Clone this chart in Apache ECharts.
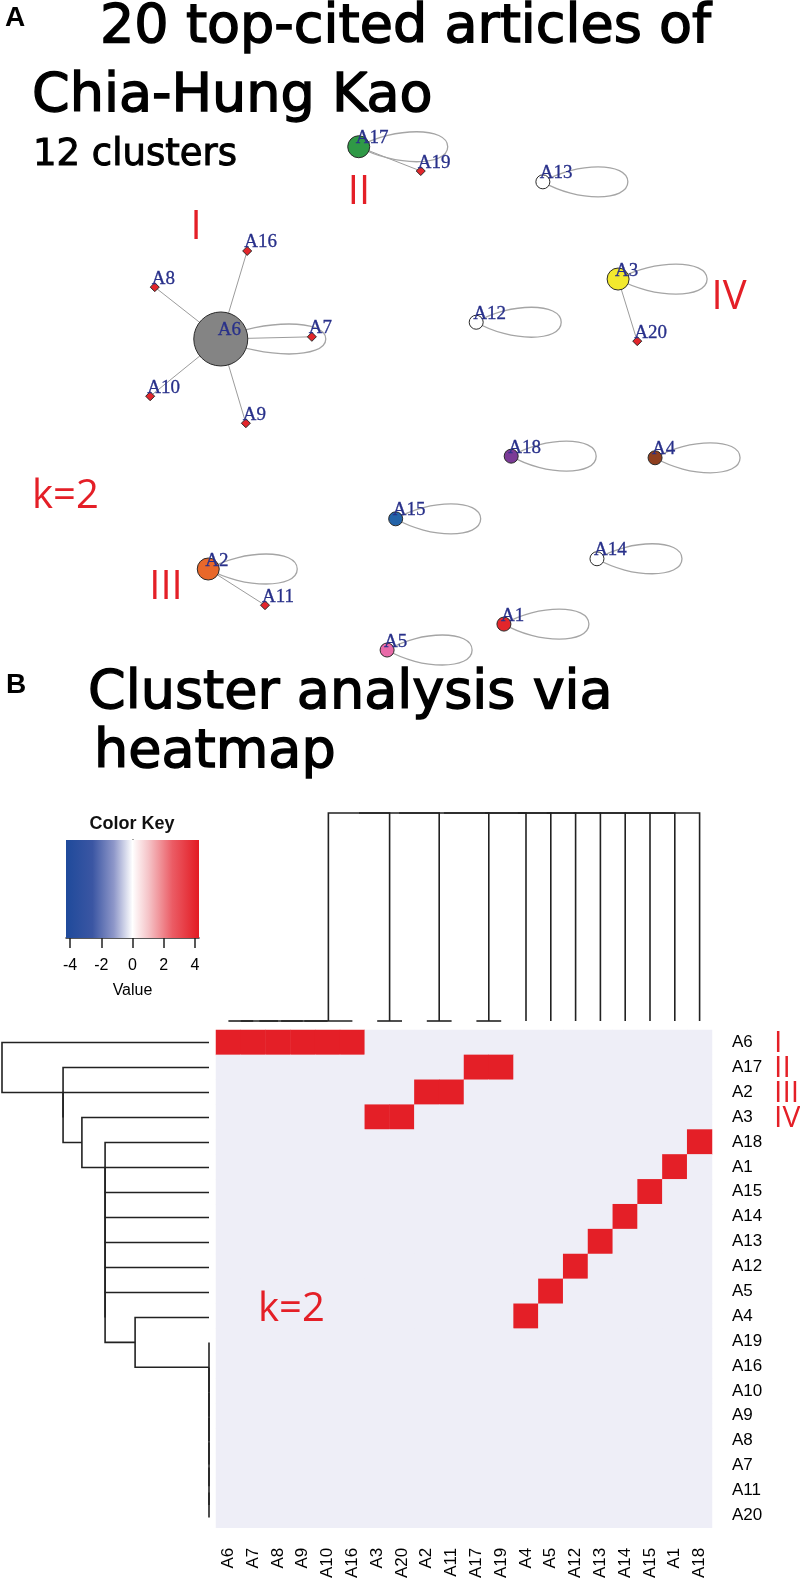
<!DOCTYPE html>
<html>
<head>
<meta charset="utf-8">
<script src="https://cdn.jsdelivr.net/npm/echarts@6/dist/echarts.min.js"></script>
<style>
  html, body { margin: 0; padding: 0; background: #fff; }
  #chart { width: 800px; height: 1581px; }
</style>
</head>
<body>
<div id="chart"></div>
<script>
// ---------- panel A : co-citation network (layout units 0..100) ----------
var nodeNames = ['A1','A2','A3','A4','A5','A6','A7','A8','A9','A10',
                 'A11','A12','A13','A14','A15','A16','A17','A18','A19','A20'];
var nodeX = [61.2, 16.4, 78.5, 84.1, 43.5, 18.3, 32.1, 8.3, 22.1, 7.6,
             25.0, 57.0, 67.1, 75.3, 44.8, 22.3, 39.2, 62.3, 48.6, 81.4];
var nodeY = [8.5, 18.7, 72.4, 39.3, 3.7, 61.3, 61.7, 70.9, 45.7, 50.7,
             12.0, 64.4, 90.4, 20.6, 28.0, 77.6, 96.9, 39.6, 92.4, 60.9];
var edgeFrom = ['A6','A6','A6','A6','A6','A17','A3','A2'];
var edgeTo   = ['A16','A8','A10','A9','A7','A19','A20','A11'];
var loopNodes = ['A6','A17','A3','A2','A13','A12','A18','A4','A15','A14','A1','A5'];

// ---------- panel B : heatmap + dendrograms ----------
var colLabels = ['A6','A7','A8','A9','A10','A16','A3','A20','A2','A11',
                 'A17','A19','A4','A5','A12','A13','A14','A15','A1','A18'];
var rowLabels = ['A6','A17','A2','A3','A18','A1','A15','A14','A13','A12',
                 'A5','A4','A19','A16','A10','A9','A8','A7','A11','A20'];
// cluster (row leader) each column article belongs to
var colCluster = ['A6','A6','A6','A6','A6','A6','A3','A3','A2','A2',
                  'A17','A17','A4','A5','A12','A13','A14','A15','A1','A18'];
// merges: [left, right, height]; merge k is referred to as 'm'+k
var rowMerges = [
  ['A20','A11',0], ['m0','A7',0], ['m1','A8',0], ['m2','A9',0], ['m3','A10',0],
  ['m4','A16',0], ['m5','A19',0], ['A4','m6',3.57], ['m7','A5',5.02], ['m8','A12',5.02],
  ['m9','A13',5.02], ['m10','A14',5.02], ['m11','A15',5.02], ['m12','A1',5.02], ['m13','A18',5.02],
  ['A3','m14',6.14], ['m15','A2',7.05], ['m16','A17',7.05], ['A6','m17',10]
];
var colMerges = [
  ['A6','A7',0], ['m0','A8',0], ['m1','A9',0], ['m2','A10',0], ['m3','A16',0],
  ['A3','A20',0], ['A2','A11',0], ['A17','A19',0],
  ['m4','m5',1], ['m8','m6',1], ['m9','m7',1], ['m10','A4',1], ['m11','A5',1],
  ['m12','A12',1], ['m13','A13',1], ['m14','A14',1], ['m15','A15',1], ['m16','A1',1], ['m17','A18',1]
];
var keyTicks = [-4, -2, 0, 2, 4];
var keyRange = [-4.26, 4.26];

// ---------- styles ----------
var nodeFill = { A1:'#e3262b', A2:'#e8682a', A3:'#f2e92e', A4:'#8e3f1f', A5:'#e86aa8', A6:'#848484',
                 A12:'#ffffff', A13:'#ffffff', A14:'#ffffff', A15:'#2363a8', A17:'#2f9946', A18:'#7b3a96' };
var nodeDiam = { A6:54, A2:22, A3:22, A17:22, A1:14, A4:14, A5:14, A12:14, A13:14, A14:14, A15:14, A18:14 };
var RED = '#e41f27';

function idx(n) { return nodeNames.indexOf(n); }
function diam(n) { return nodeDiam[n] || 9; }

function dendroSegments(order, merges) {
  var pos = {}, hgt = {}, segs = [];
  order.forEach(function (n, i) { pos[n] = i; hgt[n] = 0; });
  merges.forEach(function (m, k) {
    var a = m[0], b = m[1], h = m[2];
    segs.push([[hgt[a], pos[a]], [h, pos[a]], [h, pos[b]], [hgt[b], pos[b]]]);
    pos['m' + k] = (pos[a] + pos[b]) / 2;
    hgt['m' + k] = h;
  });
  return segs;
}
var rowSegs = dendroSegments(rowLabels, rowMerges);
var colSegs = dendroSegments(colLabels, colMerges);

var heatData = [];
rowLabels.forEach(function (r, ri) {
  colLabels.forEach(function (c, ci) {
    heatData.push([ci, ri, colCluster[ci] === r ? 1 : 0]);
  });
});

function seq(n) { var a = []; for (var i = 0; i < n; i++) a.push(i); return a; }

function txt(text, x, y, font, fill, align, heavy) {
  var st = { text: text, font: font, fill: fill || '#000',
             align: align || 'left', textAlign: align || 'left',
             verticalAlign: 'middle', textVerticalAlign: 'middle' };
  if (heavy) { st.stroke = fill || '#000'; st.lineWidth = heavy; }
  return { type: 'text', x: x, y: y, z: 100, silent: true, style: st };
}
var TITLE = '54px "DejaVu Sans"';
var NUM = '40px "Open Sans"';

var chart = echarts.init(document.getElementById('chart'));
chart.setOption({
  animation: false,
  backgroundColor: '#fff',
  textStyle: { fontFamily: 'Liberation Sans' },
  grid: [
    { left: 100, top: 130, width: 660, height: 540 },
    { left: 216, top: 1030, width: 496, height: 500, show: true, backgroundColor: '#eeeef7', borderWidth: 0 },
    { left: 216, top: 813, width: 496, height: 208 },
    { left: 2, top: 1030, width: 207, height: 500 },
    { left: 66, top: 840, width: 133, height: 98 }
  ],
  xAxis: [
    { gridIndex: 0, type: 'value', min: 0, max: 100, show: false },
    { gridIndex: 1, type: 'category', data: colLabels, position: 'bottom',
      axisLine: { show: false }, axisTick: { show: false },
      axisLabel: { rotate: 90, margin: 20, fontSize: 17, color: '#000', interval: 0 } },
    { gridIndex: 2, type: 'value', min: -0.5, max: 19.5, show: false },
    { gridIndex: 3, type: 'value', min: 0, max: 10, inverse: true, show: false },
    { gridIndex: 4, type: 'value', min: keyRange[0], max: keyRange[1],
      splitLine: { show: false },
      axisLine: { show: true, lineStyle: { color: '#222', width: 1.5 } },
      axisTick: { show: true, length: 10, customValues: keyTicks, lineStyle: { color: '#222', width: 1.5 } },
      axisLabel: { customValues: keyTicks, margin: 20, fontSize: 16, color: '#000' },
      name: 'Value', nameLocation: 'middle', nameGap: 45,
      nameTextStyle: { fontSize: 16, color: '#000' } }
  ],
  yAxis: [
    { gridIndex: 0, type: 'value', min: 0, max: 100, show: false },
    { gridIndex: 1, type: 'category', data: rowLabels, inverse: true, position: 'right',
      axisLine: { show: false }, axisTick: { show: false },
      axisLabel: { margin: 20, fontSize: 17, color: '#000', interval: 0 } },
    { gridIndex: 2, type: 'value', min: 0, max: 1, show: false },
    { gridIndex: 3, type: 'value', min: -0.5, max: 19.5, inverse: true, show: false },
    { gridIndex: 4, type: 'value', min: 0, max: 1, position: 'right',
      splitLine: { show: false }, axisTick: { show: false }, axisLabel: { show: false },
      axisLine: { show: true, lineStyle: { color: '#222', width: 1.5 } } }
  ],
  visualMap: [{ show: false, type: 'continuous', seriesIndex: 4, min: 0, max: 1,
                inRange: { color: ['#eeeef7', RED] } }],
  series: [
    { // straight edges
      type: 'custom', xAxisIndex: 0, yAxisIndex: 0, z: 1, silent: true,
      data: seq(edgeFrom.length),
      renderItem: function (params, api) {
        var a = idx(edgeFrom[params.dataIndex]), b = idx(edgeTo[params.dataIndex]);
        var p = api.coord([nodeX[a], nodeY[a]]), q = api.coord([nodeX[b], nodeY[b]]);
        return { type: 'line', shape: { x1: p[0], y1: p[1], x2: q[0], y2: q[1] },
                 style: { stroke: '#9c9c9c', lineWidth: 1 } };
      }
    },
    { // self loops
      type: 'custom', xAxisIndex: 0, yAxisIndex: 0, z: 1, silent: true,
      data: seq(loopNodes.length),
      renderItem: function (params, api) {
        var n = loopNodes[params.dataIndex], i = idx(n);
        var p = api.coord([nodeX[i], nodeY[i]]);
        var x = p[0], y = p[1], L = 78 + diam(n) / 2, k = 20;
        var d = 'M' + x + ' ' + y +
                ' C' + (x + 0.4 * L) + ' ' + (y - k) + ' ' + (x + L) + ' ' + (y - k) + ' ' + (x + L) + ' ' + y +
                ' C' + (x + L) + ' ' + (y + k) + ' ' + (x + 0.4 * L) + ' ' + (y + k) + ' ' + x + ' ' + y;
        return { type: 'path', shape: { pathData: d },
                 style: { fill: 'none', stroke: '#a5a5a5', lineWidth: 1.3 } };
      }
    },
    { // nodes
      type: 'scatter', xAxisIndex: 0, yAxisIndex: 0, z: 3, silent: true,
      data: nodeNames.map(function (n, i) {
        var big = !!nodeDiam[n];
        return { name: n, value: [nodeX[i], nodeY[i]],
                 symbol: big ? 'circle' : 'diamond', symbolSize: diam(n),
                 itemStyle: { color: nodeFill[n] || '#e3262b', borderColor: '#2a2a2a', borderWidth: 1, opacity: 1 } };
      })
    },
    { // node labels
      type: 'custom', xAxisIndex: 0, yAxisIndex: 0, z: 4, silent: true,
      data: seq(nodeNames.length),
      renderItem: function (params, api) {
        var i = params.dataIndex;
        var p = api.coord([nodeX[i], nodeY[i]]);
        return { type: 'text', x: p[0] - 3, y: p[1] + 1,
                 style: { text: nodeNames[i], font: '19px "Liberation Serif"', fill: '#28308a',
                          stroke: '#28308a', lineWidth: 0.3,
                          align: 'left', textAlign: 'left', verticalAlign: 'bottom', textVerticalAlign: 'bottom' } };
      }
    },
    { // heatmap
      type: 'heatmap', xAxisIndex: 1, yAxisIndex: 1, silent: true,
      data: heatData, itemStyle: { borderWidth: 0 }
    },
    { // column dendrogram
      type: 'custom', xAxisIndex: 2, yAxisIndex: 2, silent: true,
      data: seq(colSegs.length),
      renderItem: function (params, api) {
        var pts = colSegs[params.dataIndex].map(function (p) { return api.coord([p[1], p[0]]); });
        return { type: 'polyline', shape: { points: pts },
                 style: { fill: 'none', stroke: '#222', lineWidth: 1.6 } };
      }
    },
    { // row dendrogram
      type: 'custom', xAxisIndex: 3, yAxisIndex: 3, silent: true,
      data: seq(rowSegs.length),
      renderItem: function (params, api) {
        var pts = rowSegs[params.dataIndex].map(function (p) { return api.coord([p[0], p[1]]); });
        return { type: 'polyline', shape: { points: pts },
                 style: { fill: 'none', stroke: '#222', lineWidth: 1.6 } };
      }
    },
    { // colour key bar
      type: 'custom', xAxisIndex: 4, yAxisIndex: 4, silent: true, z: 1,
      data: [0],
      renderItem: function (params, api) {
        var p0 = api.coord([keyRange[0], 1]), p1 = api.coord([keyRange[1], 0]);
        return { type: 'rect',
                 shape: { x: p0[0], y: p0[1], width: p1[0] - p0[0], height: p1[1] - p0[1] },
                 style: { fill: new echarts.graphic.LinearGradient(0, 0, 1, 0, [
                   { offset: 0, color: '#1f4a9b' }, { offset: 0.2, color: '#3b56a3' },
                   { offset: 0.36, color: '#8e97c9' }, { offset: 0.5, color: '#ffffff' },
                   { offset: 0.62, color: '#f5c4c8' }, { offset: 0.8, color: '#eb5c65' },
                   { offset: 1, color: '#e31b23' } ]) } };
      }
    }
  ],
  graphic: [
    txt('A', 5, 18, 'bold 28px "Liberation Sans"'),
    txt('20 top-cited articles of', 100, 28, TITLE, '#000', 'left', 1.4),
    txt('Chia-Hung Kao', 32, 97, TITLE, '#000', 'left', 1.4),
    txt('12 clusters', 33, 155, '37px "DejaVu Sans"', '#000', 'left', 1),
    txt('I', 196, 228, NUM, RED, 'center'),
    txt('II', 359, 193, NUM, RED, 'center'),
    txt('III', 166, 588, NUM, RED, 'center'),
    txt('IV', 729, 298, NUM, RED, 'center'),
    txt('k=2', 32, 497, NUM, RED),
    txt('B', 6, 685, 'bold 28px "Liberation Sans"'),
    txt('Cluster analysis via', 88, 694, TITLE, '#000', 'left', 1.4),
    txt('heatmap', 94, 753, TITLE, '#000', 'left', 1.4),
    txt('Color Key', 132, 824, 'bold 18px "Liberation Sans"', '#111', 'center'),
    txt('k=2', 258, 1310, NUM, RED),
    txt('I', 774, 1043, '30px "Open Sans"', RED),
    txt('II', 774, 1068, '30px "Open Sans"', RED),
    txt('III', 774, 1093, '30px "Open Sans"', RED),
    txt('IV', 774, 1118, '30px "Open Sans"', RED)
  ]
});
</script>
</body>
</html>
